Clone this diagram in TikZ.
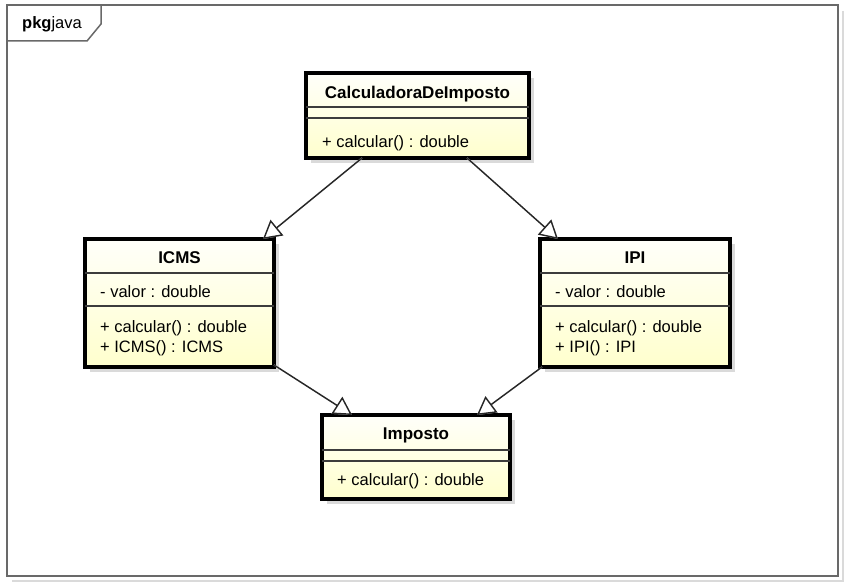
\documentclass[tikz,border=0pt]{standalone}
\usepackage{fontspec}
\setmainfont{Liberation Sans}
\usetikzlibrary{arrows.meta,calc,shadows}
\definecolor{boxtop}{RGB}{255,255,250}
\definecolor{boxbot}{RGB}{255,255,205}
\definecolor{shadowc}{RGB}{218,218,218}
\definecolor{framec}{RGB}{105,105,105}
\definecolor{sepc}{RGB}{60,60,60}
\begin{document}
\begin{tikzpicture}[x=1pt,y=-1pt,
  classbox/.style={draw=black, line width=3.2pt, top color=boxtop, bottom color=boxbot,
    anchor=north west, inner sep=0pt, outer sep=0pt,
    drop shadow={shadow xshift=5pt, shadow yshift=-5pt, fill=shadowc, opacity=1}},
  titletext/.style={font=\fontsize{17}{20}\selectfont\bfseries, anchor=base, inner sep=0pt},
  membertext/.style={font=\fontsize{16.5}{20}\selectfont, anchor=base west, inner sep=0pt},
  sepline/.style={draw=sepc, line width=1.4pt},
  gen/.style={draw=black!85, line width=1.4pt, -{Triangle[open, length=18pt, width=20pt, fill=white]}},
  genshadow/.style={draw=shadowc, line width=1.4pt, -{Triangle[open, length=18pt, width=20pt, fill=white]}},
  frameline/.style={draw=framec, line width=1.5pt}
]
\useasboundingbox (0,0) rectangle (850,586);
% frame
\draw[shadowc, line width=1.2pt] (843,11) -- (843,581) -- (12,581);
\draw[frameline, fill=white] (7,5) rectangle (838,576);
\draw[frameline] (101,5) -- (101,24) -- (87,41) -- (7,41);
\node[anchor=base west, inner sep=0pt, font=\fontsize{16.5}{20}\selectfont] (pkg) at (22,29) {\textbf{pkg}java};

% classes
\node[classbox, minimum width=223pt, minimum height=85pt] (calc) at (306,73) {};
\node[classbox, minimum width=189pt, minimum height=128pt] (icms) at (85,239) {};
\node[classbox, minimum width=190pt, minimum height=128pt] (ipi) at (540,239) {};
\node[classbox, minimum width=188pt, minimum height=84pt] (imp) at (322,415) {};

% CalculadoraDeImposto
\draw[sepline] ($(calc.north west)+(0,34)$) -- ($(calc.north east)+(0,34)$);
\draw[sepline] ($(calc.north west)+(0,45)$) -- ($(calc.north east)+(0,45)$);
\node[titletext] (calct) at ($(calc.north)+(0,25)$) {CalculadoraDeImposto};
\node[membertext] (calcm) at ($(calc.north west)+(16,74)$) {+ calcular() : double};

% ICMS
\draw[sepline] ($(icms.north west)+(0,34)$) -- ($(icms.north east)+(0,34)$);
\draw[sepline] ($(icms.north west)+(0,67)$) -- ($(icms.north east)+(0,67)$);
\node[titletext] (icmst) at ($(icms.north)+(0,24)$) {ICMS};
\node[membertext] (icmsa) at ($(icms.north west)+(15,58)$) {- valor : double};
\node[membertext] (icmsm1) at ($(icms.north west)+(15,93)$) {+ calcular() : double};
\node[membertext] (icmsm2) at ($(icms.north west)+(15,113)$) {+ ICMS() : ICMS};

% IPI
\draw[sepline] ($(ipi.north west)+(0,34)$) -- ($(ipi.north east)+(0,34)$);
\draw[sepline] ($(ipi.north west)+(0,67)$) -- ($(ipi.north east)+(0,67)$);
\node[titletext] (ipit) at ($(ipi.north)+(0,24)$) {IPI};
\node[membertext] (ipia) at ($(ipi.north west)+(15,58)$) {- valor : double};
\node[membertext] (ipim1) at ($(ipi.north west)+(15,93)$) {+ calcular() : double};
\node[membertext] (ipim2) at ($(ipi.north west)+(15,113)$) {+ IPI() : IPI};

% Imposto
\draw[sepline] ($(imp.north west)+(0,35)$) -- ($(imp.north east)+(0,35)$);
\draw[sepline] ($(imp.north west)+(0,46)$) -- ($(imp.north east)+(0,46)$);
\node[titletext] (impt) at ($(imp.north)+(0,24)$) {Imposto};
\node[membertext] (impm) at ($(imp.north west)+(15,70)$) {+ calcular() : double};

% connector shadows
\begin{scope}[shift={(5,5)}]
\draw[genshadow] ($(calc.south west)+(56,0)$) -- ($(icms.north east)+(-11,0)$);
\draw[genshadow] ($(calc.south west)+(161,0)$) -- ($(ipi.north west)+(18,0)$);
\draw[genshadow] ($(icms.south east)+(0,-2)$) -- ($(imp.north west)+(30,0)$);
\draw[genshadow] ($(ipi.south west)+(2,0)$) -- ($(imp.north east)+(-33,0)$);
\end{scope}
% connectors
\draw[gen] ($(calc.south west)+(56,0)$) -- ($(icms.north east)+(-11,0)$);
\draw[gen] ($(calc.south west)+(161,0)$) -- ($(ipi.north west)+(18,0)$);
\draw[gen] ($(icms.south east)+(0,-2)$) -- ($(imp.north west)+(30,0)$);
\draw[gen] ($(ipi.south west)+(2,0)$) -- ($(imp.north east)+(-33,0)$);
\end{tikzpicture}
\end{document}
